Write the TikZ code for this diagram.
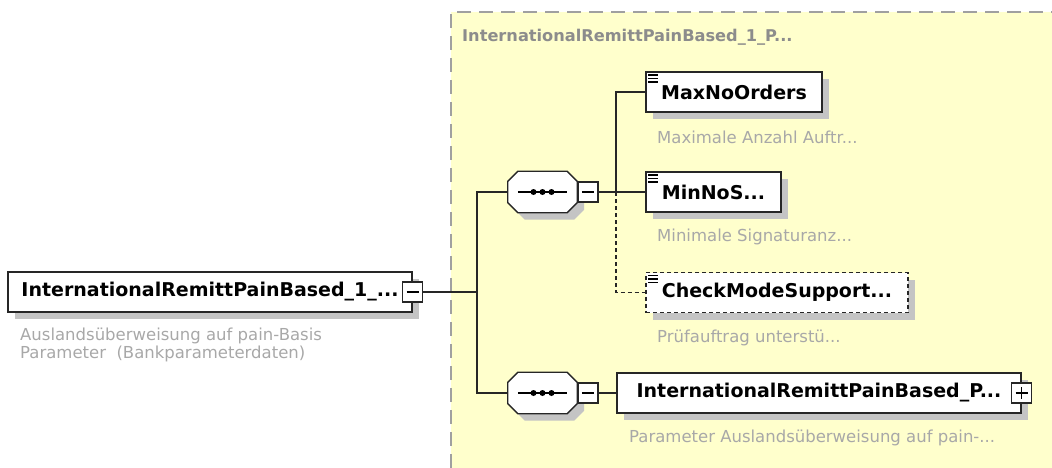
\documentclass[tikz,border=0pt]{standalone}
\usepackage{fontspec}
\setmainfont{DejaVu Sans}
\usetikzlibrary{shadows}

\definecolor{xsdyellow}{HTML}{FFFFCC}
\definecolor{xsdframe}{HTML}{A0A0A0}
\definecolor{xsdtitle}{HTML}{8C8C8C}
\definecolor{xsddesc}{HTML}{A8A8A8}
\definecolor{xsdshadow}{HTML}{C4C4C4}

% octagon round a sequence node
\newcommand{\octpath}[1]{([xshift=10pt]#1.north west) -- ([xshift=-10pt]#1.north east)
  -- ([yshift=-10pt]#1.north east) -- ([yshift=10pt]#1.south east)
  -- ([xshift=-10pt]#1.south east) -- ([xshift=10pt]#1.south west)
  -- ([yshift=10pt]#1.south west) -- ([yshift=-10pt]#1.north west) -- cycle}

\tikzset{
  wire/.style={line width=1.3pt, draw=black!85},
  optwire/.style={wire, dash pattern=on 4pt off 3pt},
  elem/.style={draw=black!85, line width=1.3pt, fill=white, rectangle,
    minimum height=40pt, inner sep=0pt,
    general shadow={fill=xsdshadow, shadow xshift=7pt, shadow yshift=-7pt},
    font=\fontsize{19}{22}\selectfont\bfseries},
  optelem/.style={elem, dash pattern=on 4pt off 3pt},
  seqbox/.style={rectangle, minimum width=69pt, minimum height=41pt, inner sep=0pt},
  tgl/.style={draw=black!85, line width=1.3pt, fill=white, rectangle,
    minimum size=20pt, inner sep=0pt},
  desc/.style={anchor=west, text=xsddesc, inner sep=0pt,
    font=\fontsize{16.5}{17.5}\selectfont},
}

\begin{document}
\begin{tikzpicture}[x=1pt, y=-1pt]
      \useasboundingbox (0,0) rectangle (1052,468);
      % Group background:
      \fill[xsdyellow] (451,12) rectangle (1052,468);
      \draw[xsdframe, line width=1.5pt, dash pattern=on 14pt off 8pt] (451,468) |- (1052,12);
      \node[anchor=west, text=xsdtitle, inner sep=0pt, font=\fontsize{16.2}{20}\selectfont\bfseries] (Title) at (462,37) {InternationalRemittPainBased\_1\_P...};
      % Nodes:
      \node[elem, minimum width=404pt] (Root) at (210,292) {InternationalRemittPainBased\_1\_...};
      \node[tgl] (RootTgl) at (Root.east) {};
      \node[desc, anchor=north west, align=left] (RootDesc) at (20,328) {Auslandsüberweisung auf pain-Basis\\Parameter\ \ (Bankparameterdaten)};
      \node[seqbox] (Seq1) at (542.5,192) {};
      \node[seqbox] (Seq2) at (542.5,393) {};
      \foreach \s in {Seq1, Seq2} {
        \fill[xsdshadow, transform canvas={xshift=7pt, yshift=-7pt}] \octpath{\s};
        \filldraw[fill=white, draw=black!85, line width=1.3pt] \octpath{\s};
      }
      \node[tgl, anchor=west] (Seq1Tgl) at (Seq1.east) {};
      \node[tgl, anchor=west] (Seq2Tgl) at (Seq2.east) {};
      \node[elem, minimum width=176pt] (MaxNo) at (734,92) {MaxNoOrders};
      \node[desc] (MaxNoDesc) at (657,137) {Maximale Anzahl Auftr...};
      \node[elem, minimum width=135pt] (MinNo) at (713.5,192) {MinNoS...};
      \node[desc] (MinNoDesc) at (657,237) {Minimale Signaturanz...};
      \node[optelem, minimum width=262pt] (Check) at (777,292.5) {CheckModeSupport...};
      \node[desc] (CheckDesc) at (657,338) {Prüfauftrag unterstü...};
      \node[elem, minimum width=404pt] (Param) at (819,393) {InternationalRemittPainBased\_P...};
      \node[tgl] (ParamTgl) at (Param.east) {};
      \node[desc] (ParamDesc) at (629,438) {Parameter Auslandsüberweisung auf pain-...};
      \coordinate (Bus1) at (477,292);
      \coordinate (Bus2) at (616,192);
      % Wires:
      \draw[wire] (RootTgl.east) -- (Bus1);
      \draw[wire] (Seq1.west) -| (Bus1) |- (Seq2.west);
      \draw[wire] (Seq1Tgl.east) -- (Bus2);
      \draw[wire] (Bus2) |- (MaxNo.west);
      \draw[wire] (Bus2) -- (MinNo.west);
      \draw[optwire] (Bus2) |- (Check.west);
      \draw[wire] (Seq2Tgl.east) -- (Param.west);
      % Toggles, sequence marks and element icons:
      \foreach \t in {RootTgl, Seq1Tgl, Seq2Tgl, ParamTgl}
        \draw[line width=1.3pt] ([xshift=-6pt]\t.center) -- ([xshift=6pt]\t.center);
      \draw[line width=1.3pt] ([yshift=-6pt]ParamTgl.center) -- ([yshift=6pt]ParamTgl.center);
      \foreach \s in {Seq1, Seq2} {
        \draw[line width=1.3pt] ([xshift=10pt]\s.west) -- ([xshift=-10pt]\s.east);
        \foreach \d in {-9, 0, 9}
          \fill ([xshift=\d pt]\s.center) circle (3pt);
      }
      \foreach \e in {MaxNo, MinNo, Check}
        \foreach \k in {0, 1, 2}
          \draw[line width=1.4pt] ([shift={(3,3.5+3.5*\k)}]\e.north west) -- ++(10,0);
\end{tikzpicture}
\end{document}
